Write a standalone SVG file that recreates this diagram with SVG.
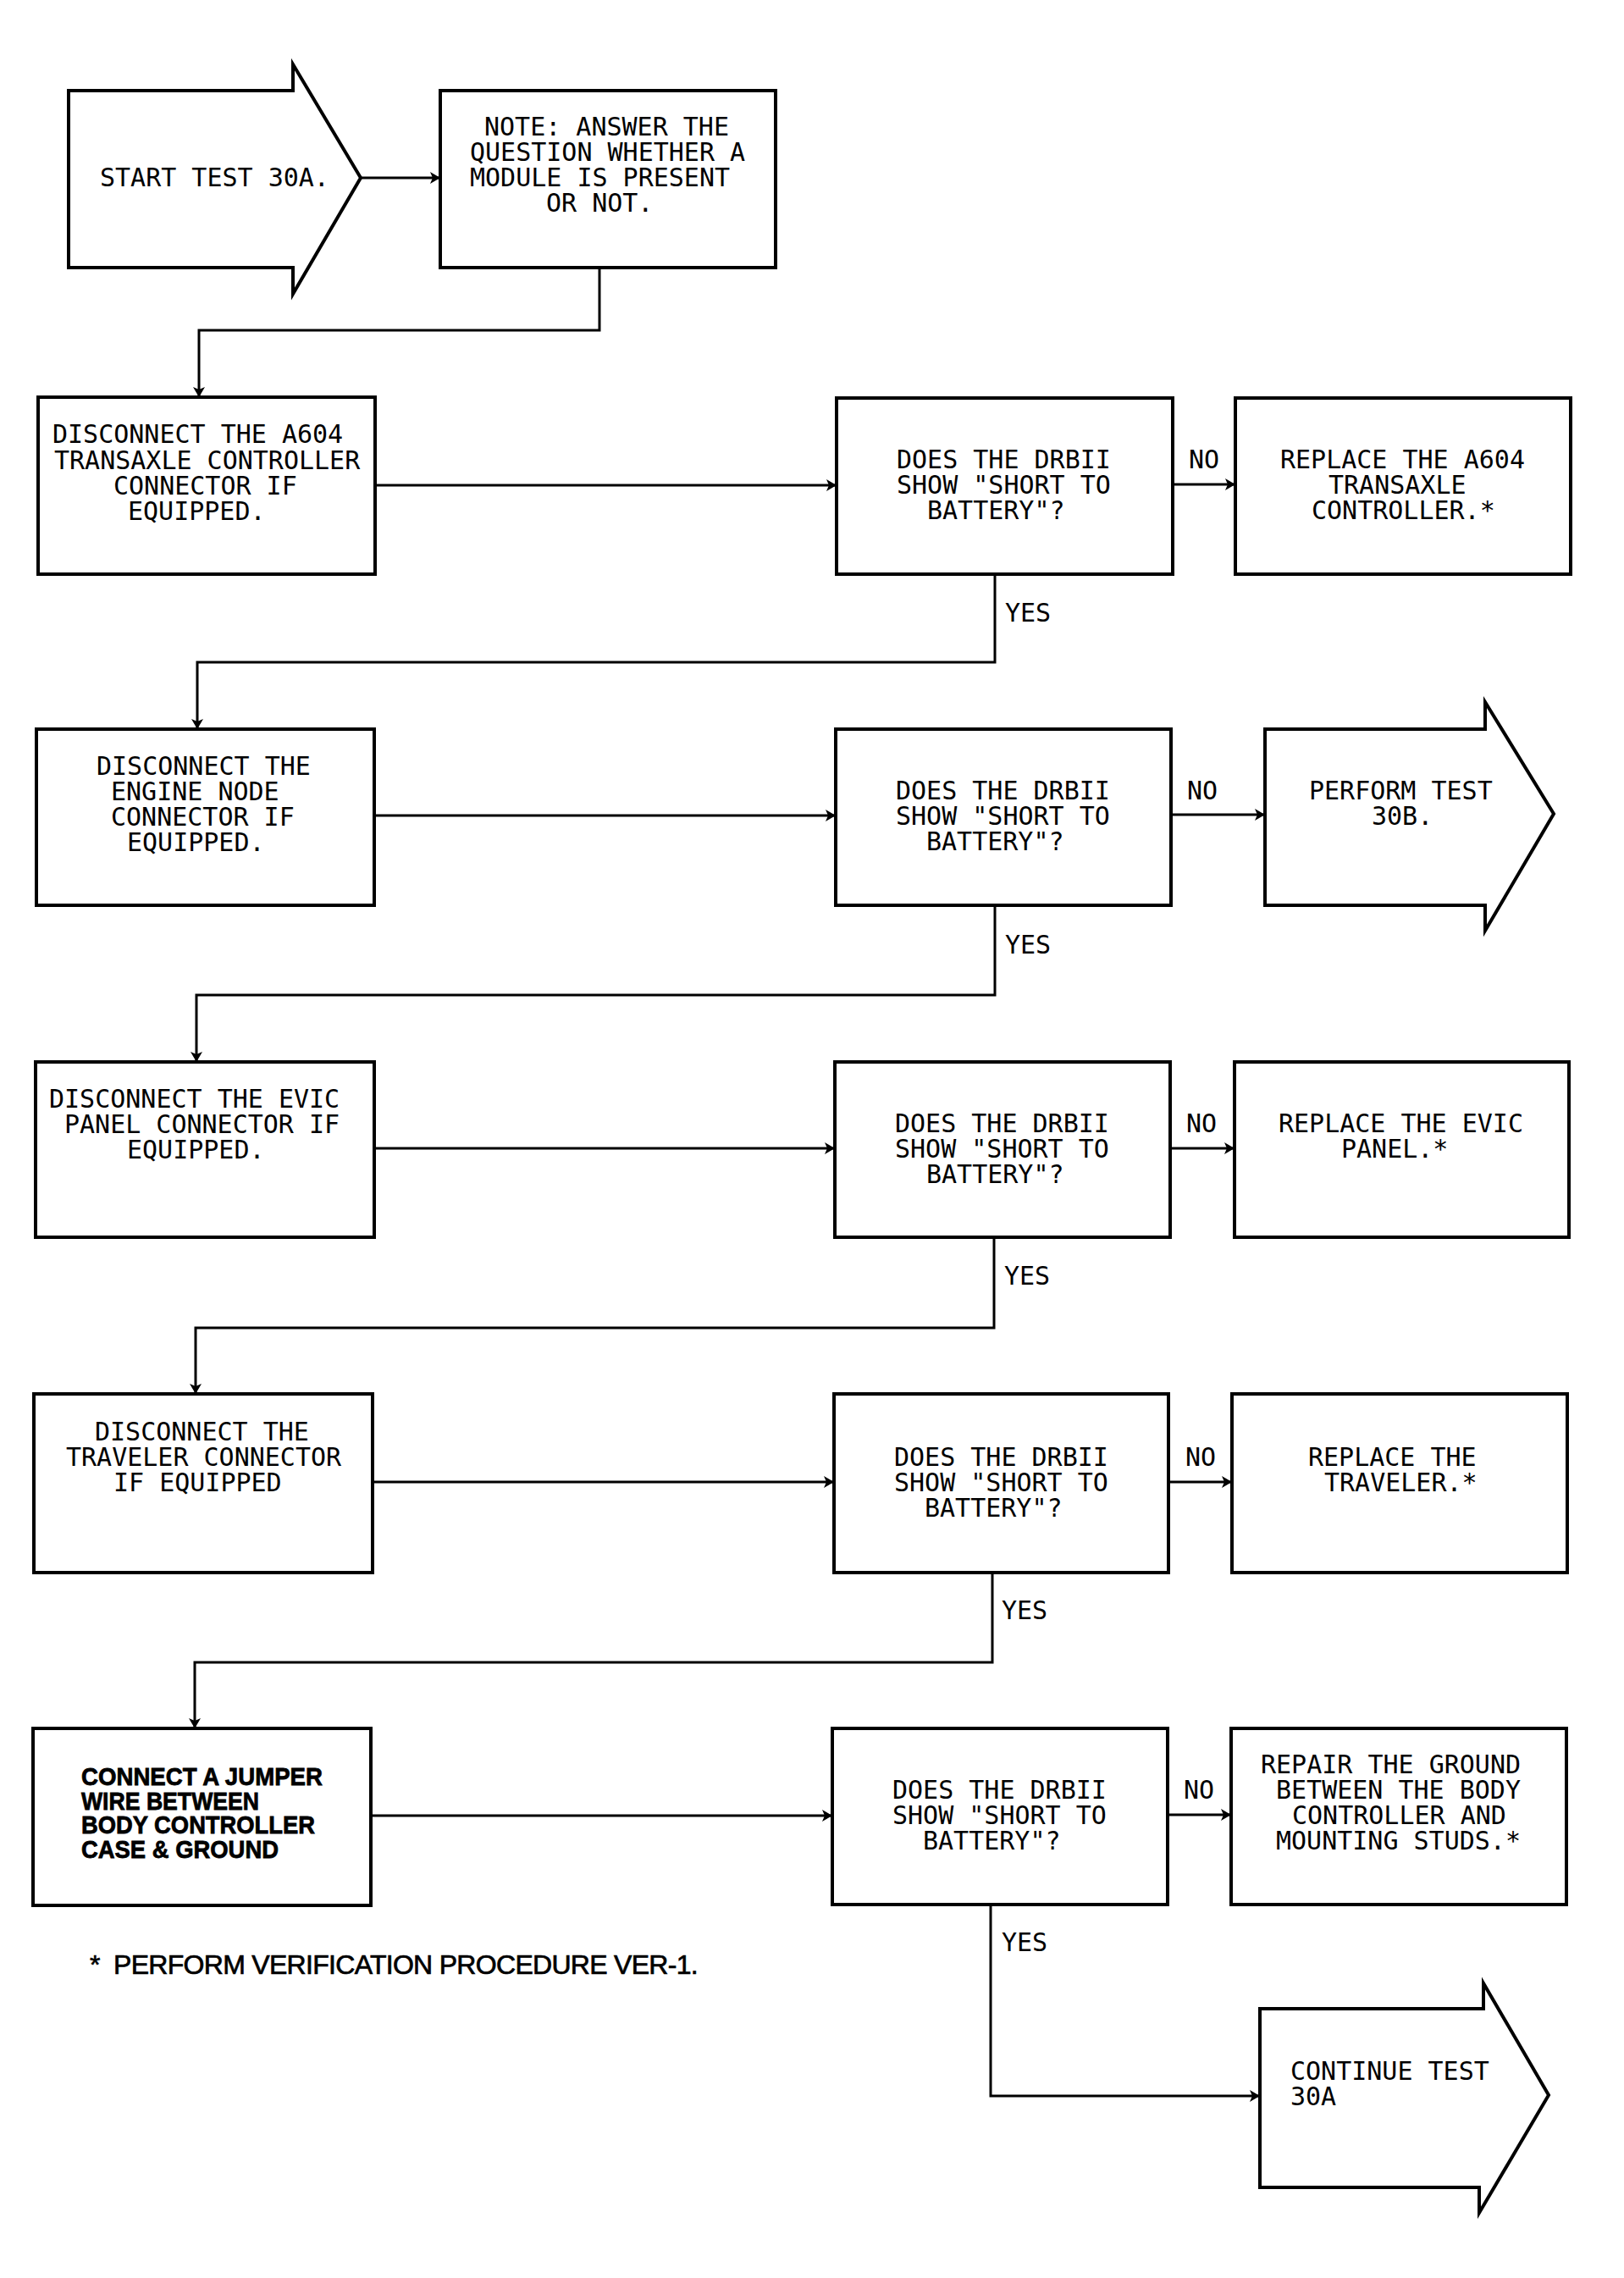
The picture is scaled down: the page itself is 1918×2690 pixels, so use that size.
<svg xmlns="http://www.w3.org/2000/svg" width="1918" height="2690" viewBox="0 0 1918 2690">
<style>
.box{fill:#fff;stroke:#000;stroke-width:4;stroke-linejoin:miter}
.con{fill:none;stroke:#000;stroke-width:3}
.t{font-family:"DejaVu Sans Mono","Liberation Mono",monospace;font-size:30px;fill:#000}
.b{font-family:"Liberation Sans",Arial,sans-serif;font-size:30px;font-weight:bold;fill:#000;stroke:#000;stroke-width:0.8}
.f{font-family:"Liberation Sans",Arial,sans-serif;font-size:32px;fill:#000;stroke:#000;stroke-width:0.7}
</style>
<defs>
<marker id="ah" markerUnits="userSpaceOnUse" viewBox="0 0 12 14" markerWidth="12" markerHeight="14" refX="12" refY="7" orient="auto">
<path d="M0,0 L12,7 L0,14 L3,7 z" fill="#000"/>
</marker>
</defs>
<rect width="1918" height="2690" fill="#fff"/>

<g id="connectors">
<path class="con" d="M426,210 H520" marker-end="url(#ah)"/>
<path class="con" d="M708,316 V390 H235 V469" marker-end="url(#ah)"/>
<path class="con" d="M443,573 H988" marker-end="url(#ah)"/>
<path class="con" d="M1385,572 H1459" marker-end="url(#ah)"/>
<path class="con" d="M1175,678 V782 H233 V861" marker-end="url(#ah)"/>
<path class="con" d="M442,963 H987" marker-end="url(#ah)"/>
<path class="con" d="M1383,962 H1494" marker-end="url(#ah)"/>
<path class="con" d="M1175,1069 V1175 H232 V1254" marker-end="url(#ah)"/>
<path class="con" d="M441,1356 H986" marker-end="url(#ah)"/>
<path class="con" d="M1382,1356 H1458" marker-end="url(#ah)"/>
<path class="con" d="M1174,1461 V1568 H231 V1646" marker-end="url(#ah)"/>
<path class="con" d="M440,1750 H985" marker-end="url(#ah)"/>
<path class="con" d="M1380,1750 H1455" marker-end="url(#ah)"/>
<path class="con" d="M1172,1857 V1963 H230 V2041" marker-end="url(#ah)"/>
<path class="con" d="M438,2144 H983" marker-end="url(#ah)"/>
<path class="con" d="M1379,2143 H1454" marker-end="url(#ah)"/>
<path class="con" d="M1170,2249 V2475 H1488" marker-end="url(#ah)"/>
<text class="t" x="1404" y="553">NO</text>
<text class="t" x="1187" y="734">YES</text>
<text class="t" x="1402" y="944">NO</text>
<text class="t" x="1187" y="1126">YES</text>
<text class="t" x="1401" y="1337">NO</text>
<text class="t" x="1186" y="1517">YES</text>
<text class="t" x="1400" y="1731">NO</text>
<text class="t" x="1183" y="1912">YES</text>
<text class="t" x="1398" y="2124">NO</text>
<text class="t" x="1183" y="2304">YES</text>
</g>

<g id="start">
<polygon class="box" points="81,107 346,107 346,76 426,210 346,347 346,316 81,316"/>
<text class="t" x="118" y="220">START TEST 30A.</text>
</g>

<g id="note">
<rect class="box" x="520" y="107" width="396" height="209"/>
<text class="t" x="572" y="160">NOTE: ANSWER THE</text>
<text class="t" x="555" y="190">QUESTION WHETHER A</text>
<text class="t" x="555" y="220">MODULE IS PRESENT</text>
<text class="t" x="645" y="250">OR NOT.</text>
</g>

<g id="disconnect-a604">
<rect class="box" x="45" y="469" width="398" height="209"/>
<text class="t" x="62" y="523">DISCONNECT THE A604</text>
<text class="t" x="64" y="554">TRANSAXLE CONTROLLER</text>
<text class="t" x="134" y="584">CONNECTOR IF</text>
<text class="t" x="151" y="614">EQUIPPED.</text>
</g>

<g id="decision-1">
<rect class="box" x="988" y="470" width="397" height="208"/>
<text class="t" x="1059" y="553">DOES THE DRBII</text>
<text class="t" x="1059" y="583">SHOW "SHORT TO</text>
<text class="t" x="1095" y="613">BATTERY"?</text>
</g>

<g id="replace-a604">
<rect class="box" x="1459" y="470" width="396" height="208"/>
<text class="t" x="1512" y="553">REPLACE THE A604</text>
<text class="t" x="1569" y="583">TRANSAXLE</text>
<text class="t" x="1549" y="613">CONTROLLER.*</text>
</g>

<g id="disconnect-engine">
<rect class="box" x="43" y="861" width="399" height="208"/>
<text class="t" x="114" y="915">DISCONNECT THE</text>
<text class="t" x="131" y="945">ENGINE NODE</text>
<text class="t" x="131" y="975">CONNECTOR IF</text>
<text class="t" x="150" y="1005">EQUIPPED.</text>
</g>

<g id="decision-2">
<rect class="box" x="987" y="861" width="396" height="208"/>
<text class="t" x="1058" y="944">DOES THE DRBII</text>
<text class="t" x="1058" y="974">SHOW "SHORT TO</text>
<text class="t" x="1094" y="1004">BATTERY"?</text>
</g>

<g id="perform-30b">
<polygon class="box" points="1494,861 1754,861 1754,829 1835,961 1754,1099 1754,1069 1494,1069"/>
<text class="t" x="1546" y="944">PERFORM TEST</text>
<text class="t" x="1620" y="974">30B.</text>
</g>

<g id="disconnect-evic">
<rect class="box" x="42" y="1254" width="400" height="207"/>
<text class="t" x="58" y="1308">DISCONNECT THE EVIC</text>
<text class="t" x="76" y="1338">PANEL CONNECTOR IF</text>
<text class="t" x="150" y="1368">EQUIPPED.</text>
</g>

<g id="decision-3">
<rect class="box" x="986" y="1254" width="396" height="207"/>
<text class="t" x="1057" y="1337">DOES THE DRBII</text>
<text class="t" x="1057" y="1367">SHOW "SHORT TO</text>
<text class="t" x="1094" y="1397">BATTERY"?</text>
</g>

<g id="replace-evic">
<rect class="box" x="1458" y="1254" width="395" height="207"/>
<text class="t" x="1510" y="1337">REPLACE THE EVIC</text>
<text class="t" x="1584" y="1367">PANEL.*</text>
</g>

<g id="disconnect-traveler">
<rect class="box" x="40" y="1646" width="400" height="211"/>
<text class="t" x="112" y="1701">DISCONNECT THE</text>
<text class="t" x="78" y="1731">TRAVELER CONNECTOR</text>
<text class="t" x="134" y="1761">IF EQUIPPED</text>
</g>

<g id="decision-4">
<rect class="box" x="985" y="1646" width="395" height="211"/>
<text class="t" x="1056" y="1731">DOES THE DRBII</text>
<text class="t" x="1056" y="1761">SHOW "SHORT TO</text>
<text class="t" x="1092" y="1791">BATTERY"?</text>
</g>

<g id="replace-traveler">
<rect class="box" x="1455" y="1646" width="396" height="211"/>
<text class="t" x="1545" y="1731">REPLACE THE</text>
<text class="t" x="1564" y="1761">TRAVELER.*</text>
</g>

<g id="connect-jumper">
<rect class="box" x="39" y="2041" width="399" height="209"/>
<text class="b" x="96" y="2108" textLength="285" lengthAdjust="spacingAndGlyphs">CONNECT A JUMPER</text>
<text class="b" x="96" y="2137" textLength="210" lengthAdjust="spacingAndGlyphs">WIRE BETWEEN</text>
<text class="b" x="96" y="2165" textLength="276" lengthAdjust="spacingAndGlyphs">BODY CONTROLLER</text>
<text class="b" x="96" y="2194" textLength="233" lengthAdjust="spacingAndGlyphs">CASE &amp; GROUND</text>
</g>

<g id="decision-5">
<rect class="box" x="983" y="2041" width="396" height="208"/>
<text class="t" x="1054" y="2124">DOES THE DRBII</text>
<text class="t" x="1054" y="2154">SHOW "SHORT TO</text>
<text class="t" x="1090" y="2184">BATTERY"?</text>
</g>

<g id="repair-ground">
<rect class="box" x="1454" y="2041" width="396" height="208"/>
<text class="t" x="1489" y="2094">REPAIR THE GROUND</text>
<text class="t" x="1507" y="2124">BETWEEN THE BODY</text>
<text class="t" x="1526" y="2154">CONTROLLER AND</text>
<text class="t" x="1507" y="2184">MOUNTING STUDS.*</text>
</g>

<g id="continue-30a">
<polygon class="box" points="1488,2372 1752,2372 1752,2342 1829,2474 1747,2613 1747,2583 1488,2583"/>
<text class="t" x="1524" y="2456">CONTINUE TEST</text>
<text class="t" x="1524" y="2486">30A</text>
</g>

<g id="footnote">
<text class="f" x="106" y="2331">*<tspan x="134" letter-spacing="-0.7">PERFORM VERIFICATION PROCEDURE VER-1.</tspan></text>
</g>
</svg>
